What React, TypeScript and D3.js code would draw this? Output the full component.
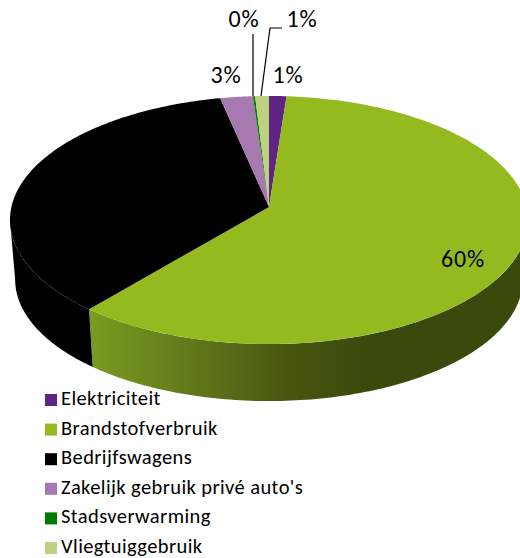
import React from "react";
import * as d3 from "d3";

const categories = ["Elektriciteit", "Brandstofverbruik", "Bedrijfswagens", "Zakelijk gebruik privé auto's", "Stadsverwarming", "Vliegtuiggebruik"];
const values = [1.2, 59.9, 35.55, 2.25, 0.15, 0.95];
const colors = ["#5F2483", "#94BA20", "#000000", "#A878B0", "#007A00", "#BDD27E"];
const sideStops = [
  { at: 0, color: "#7A9C20" },
  { at: 0.45, color: "#5C7019" },
  { at: 0.72, color: "#46560F" },
  { at: 1, color: "#3A4A0C" },
];

const W = 520, H = 558;
const cx = 269, cy = 207;
const R = 257.6, S = 122.7, K = 0.105;
const DEPTH = 59.7, BOTTOM_SCALE = 0.98;

const top = (a: number): [number, number] => {
  const w = 1 + K * Math.cos(a);
  return [cx + (R * Math.sin(a)) / w, cy - (S * Math.cos(a)) / w];
};
const bottom = (a: number): [number, number] => {
  const [x, y] = top(a);
  return [cx + (x - cx) * BOTTOM_SCALE, cy + (y - cy) * BOTTOM_SCALE + DEPTH];
};
const line = d3.line<[number, number]>();
const span = (a0: number, a1: number) => d3.range(0, 121).map((i) => a0 + ((a1 - a0) * i) / 120);
const RIGHT_EXTREME = Math.acos(-K);
const LEFT_EXTREME = 2 * Math.PI - Math.acos(-K);

export default function App() {
  const arcs = d3.pie<number>().sort(null)(values);
  const green = arcs[1];
  const legendY = d3.scalePoint<string>().domain(categories).range([400, 548]);

  const wedge = (a0: number, a1: number) =>
    line([[cx, cy], ...span(a0, a1).map(top)]) + "Z";
  const side = (a0: number, a1: number) =>
    line([...span(a0, a1).map(top), ...span(a1, a0).map(bottom)]) + "Z";

  const font = "Carlito, Lato, sans-serif";
  const pctLabels = [
    { t: "0%", x: 244, y: 27 },
    { t: "1%", x: 302, y: 27 },
    { t: "3%", x: 226, y: 83 },
    { t: "1%", x: 288, y: 83 },
    { t: "60%", x: 463, y: 267 },
  ];

  return (
    <svg width={W} height={H} viewBox={`0 0 ${W} ${H}`} style={{ position: "absolute", left: 0, top: 0, background: "#fff" }}>
      <defs>
        <linearGradient id="side" gradientUnits="userSpaceOnUse" x1={89} x2={368} y1={0} y2={0}>
          {sideStops.map((s) => <stop key={s.at} offset={s.at} stopColor={s.color} />)}
        </linearGradient>
      </defs>
      <path d={side(RIGHT_EXTREME, green.endAngle)} fill="url(#side)" />
      <path d={side(green.endAngle, LEFT_EXTREME)} fill="#000" />
      {arcs.map((a, i) => (
        <path key={i} d={wedge(a.startAngle, a.endAngle)} fill={colors[i]} />
      ))}
      <path d={line([[253, 34], [253, 96]]) ?? ""} fill="none" stroke="#000" strokeWidth={1.2} />
      <path d={line([[282, 28], [270, 28], [261, 96]]) ?? ""} fill="none" stroke="#000" strokeWidth={1.2} />
      {pctLabels.map((l, i) => (
        <text key={i} x={l.x} y={l.y} textAnchor="middle" fontFamily={font} fontSize={24} letterSpacing={0.8} fill="#000">{l.t}</text>
      ))}
      {categories.map((c, i) => (
        <g key={c}>
          <rect x={45} y={legendY(c)! - 6} width={12} height={12} fill={colors[i]} />
          <text x={61} y={legendY(c)! + 5} fontFamily={font} fontSize={20.5} letterSpacing={0.4} fill="#000">{c}</text>
        </g>
      ))}
    </svg>
  );
}
